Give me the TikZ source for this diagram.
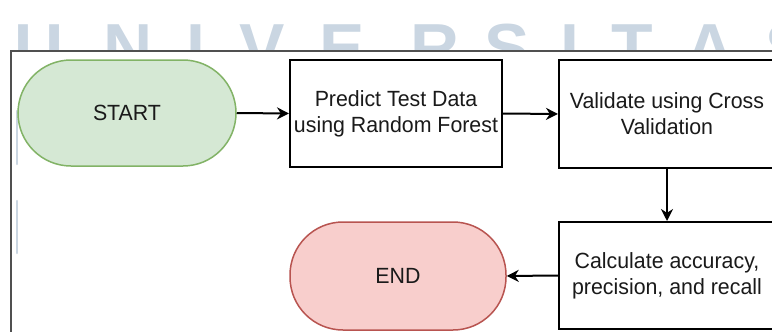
\documentclass[tikz,border=0pt]{standalone}
\usepackage{fontspec}
\setmainfont{Liberation Sans}
\newfontfamily\boxfont{Liberation Sans}[FakeStretch=0.97]
\usetikzlibrary{arrows.meta}
\definecolor{wm}{HTML}{CAD6E2}
\definecolor{framegray}{HTML}{505050}
\definecolor{startfill}{HTML}{D5E8D4}
\definecolor{startdraw}{HTML}{82B366}
\definecolor{endfill}{HTML}{F8CECC}
\definecolor{enddraw}{HTML}{B85450}
\definecolor{txt}{HTML}{1A1A1A}
\begin{document}
\begin{tikzpicture}[x=1pt,y=-1pt,
  wmletter/.style={anchor=base,inner sep=0pt,text=wm,font=\bfseries\fontsize{68}{68}\selectfont},
  procbox/.style={draw=black,line width=2pt,fill=white,align=center,inner sep=0pt,
    text=txt,font=\boxfont\fontsize{22}{26}\selectfont},
  terminal/.style={line width=1.5pt,rounded corners=53pt,align=center,inner sep=0pt,
    text=txt,font=\boxfont\fontsize{22}{26}\selectfont},
  flow/.style={line width=2pt,-{Stealth[length=12pt,width=12pt]}}]
\useasboundingbox (0,0) rectangle (772,332);
\clip (0,0) rectangle (772,332);
% watermark
\foreach \ch/\cx in {U/39,N/128,I/196,V/262,E/342,R/435,S/507,I/570,T/632,A/710,S/788}
  \node[wmletter] at (\cx,71) {\ch};
% frame
\draw[framegray,line width=2pt,fill=white] (11,51) rectangle (800,360);
\draw[wm,line width=2.5pt,line cap=round] (17,111) -- (17,164);
\draw[wm,line width=2.5pt,line cap=round] (17,201) -- (17,253);
% nodes
\node[terminal,fill=startfill,draw=startdraw,minimum width=218pt,minimum height=106pt]
  (start) at (127,113) {START};
\node[procbox,minimum width=212pt,minimum height=107pt]
  (predict) at (396,113.5) {Predict Test Data\\using Random Forest};
\node[procbox,minimum width=216pt,minimum height=108pt]
  (validate) at (667,114) {Validate using Cross\\Validation};
\node[procbox,minimum width=216pt,minimum height=107pt]
  (calc) at (667,275.5) {Calculate accuracy,\\precision, and recall};
\node[terminal,fill=endfill,draw=enddraw,minimum width=216pt,minimum height=108pt]
  (end) at (398,276) {END};
% connectors
\draw[flow] (start.east) -- (predict.west);
\draw[flow] (predict.east) -- (validate.west);
\draw[flow] (validate.south) -- (calc.north);
\draw[flow] (calc.west) -- (end.east);
\end{tikzpicture}
\end{document}
